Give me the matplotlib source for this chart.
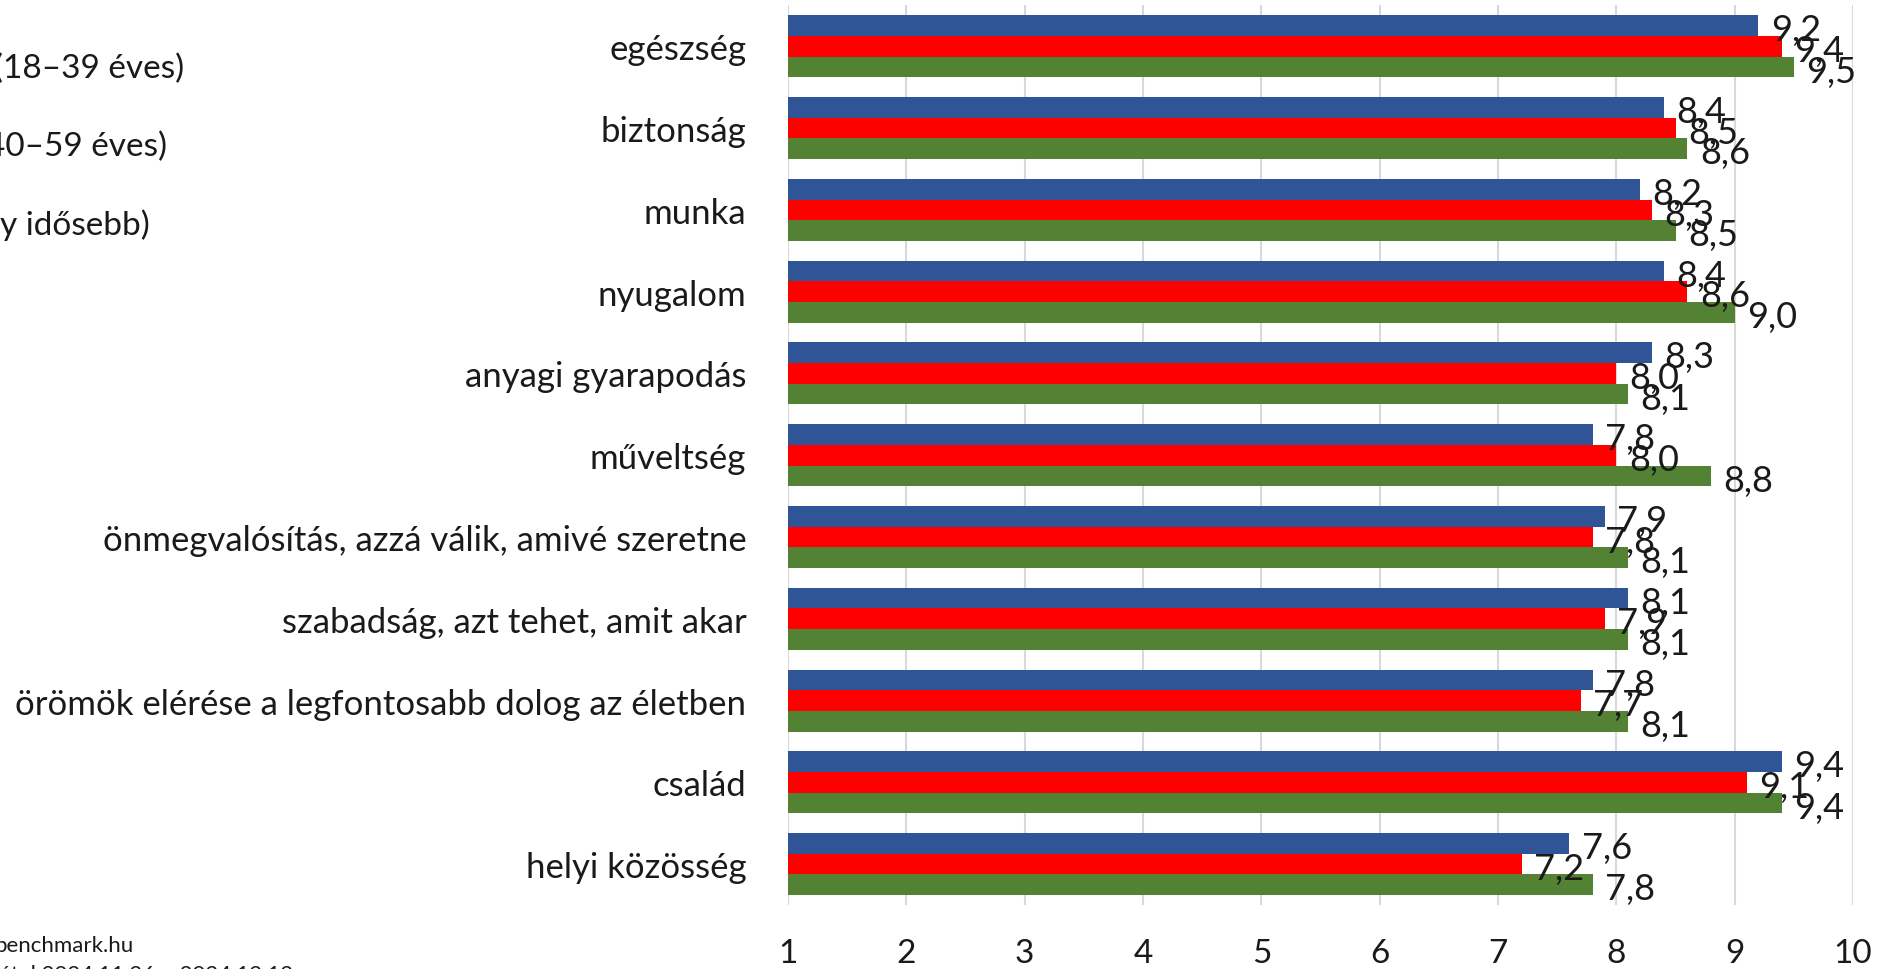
import matplotlib
matplotlib.use("Agg")
import matplotlib.pyplot as plt
import numpy as np

plt.rcParams['font.family'] = ['Lato', 'DejaVu Sans']

categories = [
    "egészség",
    "biztonság",
    "munka",
    "nyugalom",
    "anyagi gyarapodás",
    "műveltség",
    "önmegvalósítás, azzá válik, amivé szeretne",
    "szabadság, azt tehet, amit akar",
    "örömök elérése a legfontosabb dolog az életben",
    "család",
    "helyi közösség",
]
young = [9.2, 8.4, 8.2, 8.4, 8.3, 7.8, 7.9, 8.1, 7.8, 9.4, 7.6]
middle = [9.4, 8.5, 8.3, 8.6, 8.0, 8.0, 7.8, 7.9, 7.7, 9.1, 7.2]
old = [9.5, 8.6, 8.5, 9.0, 8.1, 8.8, 8.1, 8.1, 8.1, 9.4, 7.8]
series_labels = ["(18–39 éves)", "40–59 éves)", "y idősebb)"]
x_ticks = [1, 2, 3, 4, 5, 6, 7, 8, 9, 10]

colors = ["#2F5597", "#FF0000", "#548235"]

W, H = 1901, 970
fig = plt.figure(figsize=(W / 100, H / 100), dpi=100)
ax = fig.add_axes([788 / W, 1 - 906 / H, (1853 - 788) / W, (906 - 6.4) / H])

y = np.arange(len(categories))
h = 0.253
for k, (vals, col) in enumerate(zip([young, middle, old], colors)):
    pos = y + (k - 1) * h
    ax.barh(pos, np.array(vals) - 1, left=1, height=h, color=col, zorder=3)
    for v, p in zip(vals, pos):
        ax.annotate(f"{v:.1f}".replace(".", ","), xy=(v, p), xytext=(9, -3),
                    textcoords="offset points", ha="left", va="center",
                    fontsize=26, color="#1a1a1a", zorder=4)

ax.set_xlim(1, 10)
ax.set_ylim(len(categories) - 0.5, -0.5)
ax.set_xticks(x_ticks)
ax.set_xticklabels([str(t) for t in x_ticks], fontsize=24, color="#1a1a1a")
ax.set_yticks(y)
ax.set_yticklabels(categories, fontsize=25, color="#1a1a1a")
ax.tick_params(axis="y", length=0, pad=30)
ax.tick_params(axis="x", length=0, pad=24)
ax.grid(axis="x", color="#D9D9D9", linewidth=1.5, zorder=0)
ax.grid(axis="y", visible=False)
for s in ax.spines.values():
    s.set_visible(False)

legend_y = [69, 147, 225]
legend_right = [184, 167, 150]
for lab, yy, xr in zip(series_labels, legend_y, legend_right):
    fig.text(xr / W, 1 - yy / H, lab, ha="right", va="center", fontsize=24, color="#1a1a1a")

fig.text(-6 / W, 1 - 946 / H, "benchmark.hu", ha="left", va="center", fontsize=16, color="#1a1a1a")
fig.text(293 / W, 1 - 975 / H, "adatfelvétel 2024.11.26 – 2024.12.12", ha="right", va="center",
         fontsize=16, color="#1a1a1a")

fig.savefig("out.png", dpi=100)
